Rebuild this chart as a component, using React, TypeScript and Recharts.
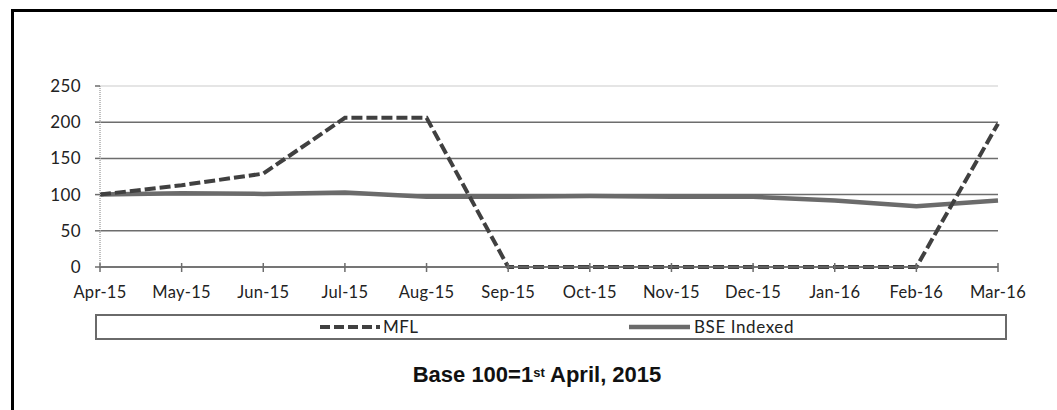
import React from 'react';
import { LineChart, Line, XAxis, YAxis, ReferenceLine } from 'recharts';

const months = ['Apr-15', 'May-15', 'Jun-15', 'Jul-15', 'Aug-15', 'Sep-15', 'Oct-15', 'Nov-15', 'Dec-15', 'Jan-16', 'Feb-16', 'Mar-16'];
const mflValues = [100, 113, 129, 206, 206, 0, 0, 0, 0, 0, 0, 198];
const bseValues = [100, 102, 101, 103, 97, 97, 98, 97, 97, 92, 84, 92];
const yTicks = [0, 50, 100, 150, 200, 250];

const data = months.map((m, i) => ({ month: m, MFL: mflValues[i], BSE: bseValues[i] }));

const FONT = 'Lato, "Open Sans", sans-serif';

const XTick = (props: any) => {
  const { x, y, payload } = props;
  return (
    <g>
      <line x1={x} x2={x} y1={y - 4} y2={y + 5} stroke="#6d6d6d" strokeWidth={1.5} />
      <text x={x} y={y + 31} textAnchor="middle" fontFamily={FONT} fontSize={16.5} letterSpacing={0.3} fill="#222">
        {payload.value}
      </text>
    </g>
  );
};

const LegendBox = () => (
  <div
    style={{
      position: 'absolute',
      left: 95,
      top: 314,
      width: 908,
      height: 22,
      border: '2px solid #6a6a6a',
    }}
  >
    <svg width={908} height={22} style={{ position: 'absolute', left: 0, top: 0 }}>
      <line x1={223} x2={283} y1={11} y2={11} stroke="#404040" strokeWidth={4} strokeDasharray="10 4" />
      <line x1={532} x2={593} y1={11} y2={11} stroke="#6b6b6b" strokeWidth={4.5} />
      <text x={286} y={17} fontFamily={FONT} fontSize={17} letterSpacing={0.4} fill="#222">MFL</text>
      <text x={597} y={17} fontFamily={FONT} fontSize={17} letterSpacing={0.6} fill="#222">BSE Indexed</text>
    </svg>
  </div>
);

export default function App() {
  return (
    <div style={{ position: 'absolute', left: 0, top: 0, width: 1057, height: 410, overflow: 'hidden', background: '#fff' }}>
      <div
        style={{
          position: 'absolute',
          left: 11,
          top: 9,
          width: 1100,
          height: 450,
          border: '3px solid #000',
          boxSizing: 'border-box',
        }}
      />
      <div style={{ position: 'absolute', left: 0, top: 0 }}>
        <LineChart width={1057} height={410} data={data} margin={{ top: 86, right: 59, bottom: 103, left: 40 }}>
          {yTicks.map((t) => (
            <ReferenceLine key={t} y={t} stroke={t === 250 ? '#dcdcdc' : '#6d6d6d'} strokeWidth={1.5} />
          ))}
          <XAxis
            dataKey="month"
            height={40}
            tickLine={false}
            tickSize={0}
            tickMargin={0}
            axisLine={{ stroke: '#6d6d6d', strokeWidth: 1.5 }}
            tick={<XTick />}
            interval={0}
          />
          <YAxis
            domain={[0, 250]}
            ticks={yTicks}
            width={60}
            tickSize={5}
            tickMargin={14}
            tickLine={{ stroke: '#6d6d6d', strokeWidth: 1.5 }}
            axisLine={{ stroke: '#aaaaaa', strokeWidth: 1.5, strokeDasharray: '1 1' }}
            tick={{ fontFamily: FONT, fontSize: 17, fill: '#222', letterSpacing: 0.4 }}
          />
          <Line
            type="linear"
            dataKey="BSE"
            name="BSE Indexed"
            stroke="#6b6b6b"
            strokeWidth={4.5}
            dot={false}
            isAnimationActive={false}
          />
          <Line
            type="linear"
            dataKey="MFL"
            name="MFL"
            stroke="#404040"
            strokeWidth={4}
            strokeDasharray="11 4"
            dot={false}
            isAnimationActive={false}
          />
        </LineChart>
      </div>
      <LegendBox />
      <div
        style={{
          position: 'absolute',
          left: 0,
          width: 1074,
          top: 363,
          textAlign: 'center',
          fontFamily: '"Liberation Sans", Arial, sans-serif',
          fontWeight: 'bold',
          fontSize: 22,
          lineHeight: '24px',
          color: '#111',
        }}
      >
        Base 100=1<sup style={{ fontSize: 13, verticalAlign: 'top', position: 'relative', top: -2 }}>st</sup> April, 2015
      </div>
    </div>
  );
}
